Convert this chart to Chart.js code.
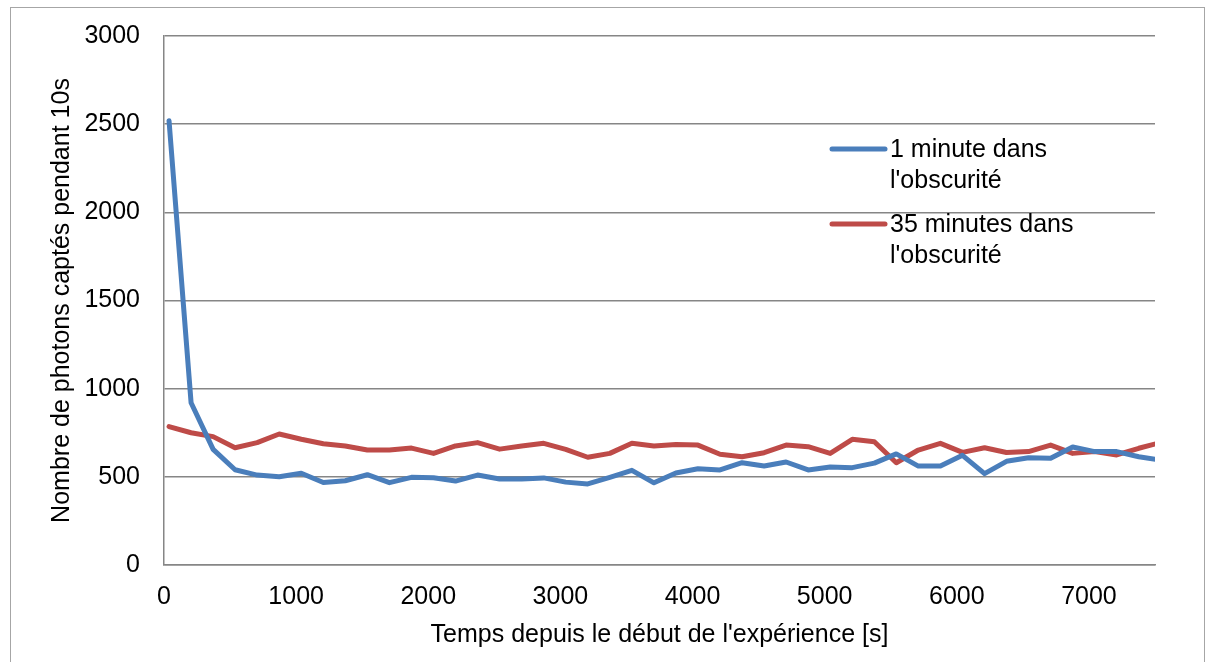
<!DOCTYPE html>
<html>
<head>
<meta charset="utf-8">
<title>Photons captés</title>
<script src="https://cdn.jsdelivr.net/npm/chart.js@4/dist/chart.umd.min.js"></script>
<style>
    body { margin: 0; background: #fff; }
    canvas { display: block; }
</style>
</head>
<body>
<canvas id="chart" width="1215" height="662"></canvas>
<script>
// temps de mesure [s]
const temps = [38, 205, 372, 538, 705, 872, 1039, 1206, 1372, 1539,
    1706, 1873, 2040, 2206, 2373, 2540, 2707, 2874, 3040, 3207,
    3374, 3541, 3708, 3874, 4041, 4208, 4375, 4542, 4708, 4875,
    5042, 5209, 5376, 5542, 5709, 5876, 6043, 6210, 6376, 6543,
    6710, 6877, 7044, 7210, 7377, 7544];

// 1 minute dans l'obscurité
const uneMinute = [2520, 920, 656, 540, 510, 500, 520, 468, 478, 512,
    467, 497, 495, 476, 510, 488, 488, 494, 470, 460,
    497, 537, 466, 522, 546, 539, 580, 561, 584, 539,
    556, 552, 578, 630, 561, 561, 622, 518, 588, 608,
    605, 669, 643, 643, 614, 595];

// 35 minutes dans l'obscurité
const trenteCinqMinutes = [785, 750, 728, 665, 694, 743, 713, 688, 675, 652,
    652, 663, 633, 675, 694, 657, 675, 690, 656, 611,
    633, 690, 675, 684, 680, 628, 614, 637, 680, 671,
    633, 713, 699, 580, 652, 690, 639, 665, 638, 643,
    680, 633, 643, 624, 662, 695];

const xTicks = [0, 1000, 2000, 3000, 4000, 5000, 6000, 7000];
const yTicks = [0, 500, 1000, 1500, 2000, 2500, 3000];

const labelsSeries = ["1 minute dans l'obscurité", "35 minutes dans l'obscurité"];
const legendLines = [['1 minute dans', "l'obscurité"], ['35 minutes dans', "l'obscurité"]];
const couleurs = ['#4a7ebb', '#be4b48'];

const FONT = 'Liberation Sans, Arial, sans-serif';
const SIZE = 25;

function toPoints(xs, ys) {
    return xs.map((x, i) => ({ x: x, y: ys[i] }));
}

// cadre extérieur + légende en deux lignes comme dans Excel
const decor = {
    id: 'decor',
    beforeDraw(chart) {
        const ctx = chart.ctx;
        ctx.save();
        ctx.fillStyle = '#fff';
        ctx.fillRect(0, 0, chart.width, chart.height);
        ctx.strokeStyle = '#a6a6a6';
        ctx.lineWidth = 1;
        ctx.strokeRect(10.5, 7.5, 1194, 700);
        ctx.restore();
    },
    afterDraw(chart) {
        const ctx = chart.ctx;
        const lineY = [149, 224];
        ctx.save();
        legendLines.forEach((lines, i) => {
            ctx.strokeStyle = chart.data.datasets[i].borderColor;
            ctx.lineWidth = 5;
            ctx.lineCap = 'round';
            ctx.beginPath();
            ctx.moveTo(832, lineY[i]);
            ctx.lineTo(885, lineY[i]);
            ctx.stroke();
            ctx.fillStyle = '#000';
            ctx.font = SIZE + 'px ' + FONT;
            ctx.textBaseline = 'alphabetic';
            ctx.textAlign = 'left';
            lines.forEach((t, j) => {
                ctx.fillText(t, 890, lineY[i] + 8 + j * 31);
            });
        });
        ctx.restore();
    }
};

new Chart(document.getElementById('chart'), {
    type: 'line',
    data: {
        datasets: [{
            label: labelsSeries[0],
            data: toPoints(temps, uneMinute),
            borderColor: couleurs[0],
            backgroundColor: couleurs[0]
        }, {
            label: labelsSeries[1],
            data: toPoints(temps, trenteCinqMinutes),
            borderColor: couleurs[1],
            backgroundColor: couleurs[1]
        }]
    },
    options: {
        responsive: false,
        animation: false,
        devicePixelRatio: 1,
        layout: { padding: { left: 0, top: 36, right: 60, bottom: 0 } },
        elements: {
            line: { borderWidth: 5, tension: 0, borderCapStyle: 'round', borderJoinStyle: 'round' },
            point: { radius: 0, hoverRadius: 0 }
        },
        plugins: {
            legend: { display: false },
            tooltip: { enabled: false }
        },
        scales: {
            x: {
                type: 'linear',
                min: 0,
                max: 7500,
                afterFit: function (scale) {
                    scale.height = 97;
                    scale.paddingLeft = 0;
                    scale.paddingRight = 0;
                },
                afterBuildTicks: function (scale) {
                    scale.ticks = xTicks.map(v => ({ value: v }));
                },
                grid: { display: false, drawTicks: false },
                border: { display: true, color: '#868686', width: 1.5 },
                ticks: {
                    autoSkip: false,
                    maxRotation: 0,
                    padding: 17,
                    color: '#000',
                    font: { family: FONT, size: SIZE },
                    callback: v => String(v)
                },
                title: {
                    display: true,
                    text: "Temps depuis le début de l'expérience [s]",
                    color: '#000',
                    font: { family: FONT, size: SIZE },
                    padding: { top: 0, bottom: 12 }
                }
            },
            y: {
                min: 0,
                max: 3000,
                afterFit: function (scale) {
                    scale.width = 164;
                    scale.paddingTop = 0;
                    scale.paddingBottom = 0;
                },
                afterBuildTicks: function (scale) {
                    scale.ticks = yTicks.map(v => ({ value: v }));
                },
                grid: { color: '#868686', lineWidth: 1.5, drawTicks: false },
                border: { display: true, color: '#868686', width: 1.5 },
                ticks: {
                    autoSkip: false,
                    padding: 24,
                    color: '#000',
                    font: { family: FONT, size: SIZE },
                    callback: v => String(v)
                },
                title: {
                    display: true,
                    text: 'Nombre de photons captés pendant 10s',
                    color: '#000',
                    font: { family: FONT, size: SIZE },
                    padding: { top: 47, bottom: 0 }
                }
            }
        }
    },
    plugins: [decor]
});
</script>
</body>
</html>
